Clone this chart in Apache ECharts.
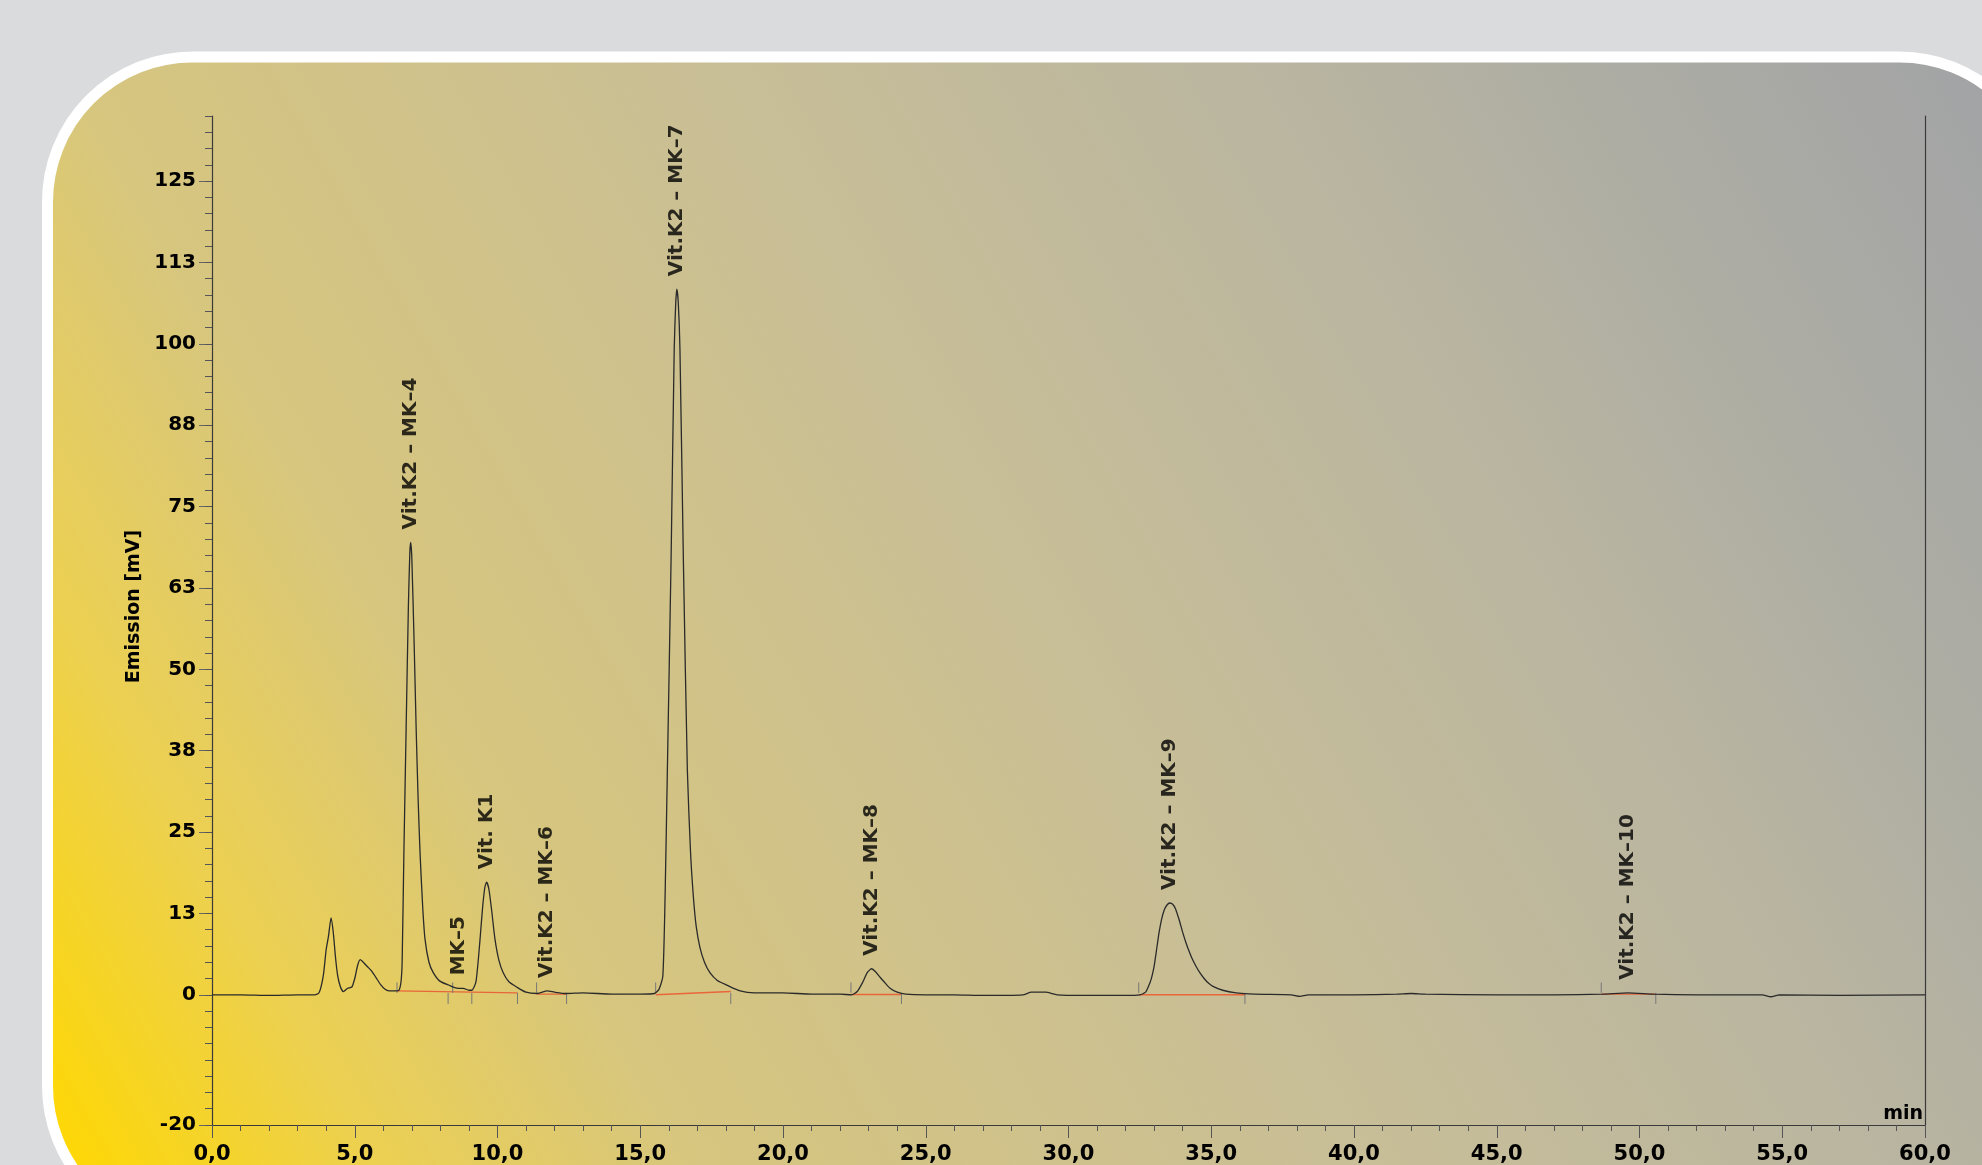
<!DOCTYPE html>
<html>
<head>
<meta charset="utf-8">
<title>Chromatogram Vit. K</title>
<script src="https://cdn.jsdelivr.net/npm/echarts@6/dist/echarts.min.js"></script>
<style>
    html, body { margin: 0; padding: 0; background: #dadbdc; }
    #chart { width: 1982px; height: 1165px; }
</style>
</head>
<body>
<div id="chart"></div>
<script>
// chromatogram trace: [time min, emission mV]
var trace = [
    [0, 0], [1, 0], [2, -0.1], [3, 0], [3.6, 0], [3.75, 0.3], [3.9, 3], [4.0, 7], [4.08, 9],
    [4.17, 11.8], [4.25, 9.5], [4.32, 6], [4.4, 3], [4.5, 1.2], [4.6, 0.5], [4.75, 1.0], [4.9, 1.2],
    [5.0, 2.5], [5.1, 4.5], [5.19, 5.4], [5.3, 5.0], [5.45, 4.3], [5.6, 3.6], [5.75, 2.6], [5.9, 1.6],
    [6.05, 0.9], [6.2, 0.6], [6.45, 0.6], [6.55, 0.7], [6.62, 2], [6.66, 5], [6.72, 21.5], [6.80, 41],
    [6.88, 60], [6.93, 68], [6.96, 69.5], [7.0, 67], [7.08, 54], [7.15, 41], [7.22, 30], [7.29, 21.5],
    [7.38, 13.5], [7.46, 8.6], [7.6, 5], [7.75, 3.4], [7.98, 2.1], [8.34, 1.4], [8.5, 1.1], [8.64, 1.0],
    [8.8, 1.0], [9.0, 0.7], [9.1, 0.7], [9.18, 1.2], [9.25, 2.1], [9.32, 5], [9.39, 8.6], [9.48, 13.5],
    [9.56, 16.6], [9.62, 17.3], [9.7, 16.2], [9.8, 12.8], [9.91, 8.6], [10.05, 5.3], [10.2, 3.4],
    [10.4, 2], [10.67, 1.2], [11, 0.4], [11.4, 0.2], [11.74, 0.6], [12, 0.4], [12.4, 0.2], [13, 0.3],
    [14, 0.1], [15, 0.1], [15.5, 0.2], [15.65, 0.8], [15.79, 2.8], [15.87, 15.1], [15.95, 34.5],
    [16.08, 66.9], [16.19, 99.3], [16.24, 106], [16.28, 108.4], [16.33, 106.5], [16.39, 99.3],
    [16.51, 66.9], [16.65, 34.5], [16.76, 22], [16.86, 15.1], [16.96, 10.5], [17.09, 7.3], [17.25, 5],
    [17.44, 3.4], [17.7, 2.2], [18.03, 1.5], [18.5, 0.6], [19, 0.3], [20, 0.3], [21, 0.1], [22, 0.1],
    [22.4, 0], [22.6, 0.5], [22.8, 2], [22.95, 3.4], [23.1, 4.0], [23.25, 3.5], [23.4, 2.7],
    [23.54, 2.0], [23.75, 1.0], [24.0, 0.4], [24.3, 0.1], [25, 0], [26, 0], [27, -0.1], [28.4, 0],
    [28.7, 0.4], [29.2, 0.4], [29.6, 0], [30.5, -0.1], [32, -0.1], [32.5, 0], [32.7, 0.4], [32.85, 1.8],
    [32.92, 2.8], [33.0, 4.4], [33.08, 6.8], [33.17, 9.5], [33.26, 11.6], [33.35, 13], [33.45, 13.8],
    [33.55, 14.1], [33.65, 13.9], [33.75, 13.2], [33.87, 11.6], [34.0, 9.6], [34.1, 8.2], [34.2, 6.95],
    [34.32, 5.65], [34.47, 4.35], [34.6, 3.4], [34.75, 2.5], [34.9, 1.8], [35.06, 1.3], [35.4, 0.7],
    [35.87, 0.3], [36.5, 0.1], [37.8, 0], [38.1, -0.25], [38.4, 0], [40, 0], [41.5, 0.1], [42, 0.2],
    [42.5, 0.1], [45, 0], [47, 0], [48.7, 0.1], [49.6, 0.3], [50.5, 0.1], [52, 0], [54.3, 0],
    [54.6, -0.3], [54.9, 0], [57, -0.1], [60, 0]
];

// peak names and apex positions
var peakNames = ['Vit.K2 – MK–4', 'MK–5', 'Vit. K1', 'Vit.K2 – MK–6', 'Vit.K2 – MK–7',
    'Vit.K2 – MK–8', 'Vit.K2 – MK–9', 'Vit.K2 – MK–10'];
var peakTimes = [6.96, 8.64, 9.62, 11.74, 16.28, 23.1, 33.55, 49.6];
var peakHeights = [69.5, 1.0, 17.3, 0.6, 108.4, 4.0, 14.1, 0.3];

// integration baselines (orange) and peak start / end markers
var baselineSegs = [
    [6.48, 0.6], [10.7, 0.3], '-', [11.37, 0.1], [12.42, 0.1], '-', [15.54, 0.0], [18.17, 0.5], '-',
    [22.38, 0.05], [24.15, 0.05], '-', [32.46, 0], [36.18, 0], '-', [48.66, 0.1], [50.57, 0.1]
];
var peakStarts = [6.48, 8.43, 11.37, 15.54, 22.38, 32.46, 48.66];
var peakEnds = [8.27, 9.10, 10.70, 12.42, 18.17, 24.15, 36.18, 50.57];

// axis ticks
var xTickLabels = ['0,0', '5,0', '10,0', '15,0', '20,0', '25,0', '30,0', '35,0', '40,0', '45,0', '50,0', '55,0', '60,0'];
var yTickValues = [-20, 0, 12.5, 25, 37.5, 50, 62.5, 75, 87.5, 100, 112.5, 125];
var yTickLabels = ['-20', '0', '13', '25', '38', '50', '63', '75', '88', '100', '113', '125'];

var yMinor = [];
for (var v = -20; v <= 135; v += 2.5) { yMinor.push(v); }

var markerData = [];
peakStarts.forEach(function (t) { markerData.push([t, 0.3], [t, 1.9], '-'); });
peakEnds.forEach(function (t) { markerData.push([t, 0.3], [t, -1.4], '-'); });

var labelData = peakTimes.map(function (t, i) { return { value: [t, peakHeights[i]], name: peakNames[i] }; });

var FONT = 'DejaVu Sans';
var chart = echarts.init(document.getElementById('chart'));

chart.setOption({
    animation: false,
    graphic: [{
        type: 'rect',
        z: -10,
        shape: { x: 47.5, y: 57, width: 1997, height: 1174, r: 145 },
        style: {
            fill: new echarts.graphic.LinearGradient(50, 1165, 1982, 60, [
                { offset: 0, color: '#ffd800' },
                { offset: 0.13, color: '#ecd052' },
                { offset: 0.25, color: '#d7c67e' },
                { offset: 0.51, color: '#c8be97' },
                { offset: 0.72, color: '#b9b5a0' },
                { offset: 0.86, color: '#acaca4' },
                { offset: 1, color: '#a2a3a5' }
            ], true),
            stroke: '#ffffff',
            lineWidth: 11
        }
    }],
    grid: { left: 212, right: 57, top: 116, bottom: 40 },
    xAxis: {
        type: 'value',
        min: 0,
        max: 60,
        interval: 5,
        name: 'min',
        nameLocation: 'end',
        nameGap: -2,
        nameTextStyle: { fontFamily: FONT, fontWeight: 'bold', fontSize: 19, color: '#000', align: 'right', verticalAlign: 'bottom', padding: [0, 0, 1, 0] },
        axisLine: { onZero: false, lineStyle: { color: '#3a3a3a', width: 1.2 } },
        axisTick: { length: 13, lineStyle: { color: '#555' } },
        minorTick: { show: true, splitNumber: 5, length: 6, lineStyle: { color: '#555' } },
        splitLine: { show: false },
        axisLabel: {
            margin: 19,
            fontFamily: FONT, fontWeight: 'bold', fontSize: 21, color: '#000',
            formatter: function (val) { return xTickLabels[Math.round(val / 5)]; }
        }
    },
    yAxis: [{
        type: 'value',
        min: -20,
        max: 135,
        position: 'left',
        name: 'Emission [mV]',
        nameLocation: 'middle',
        nameGap: 63,
        nameTextStyle: { fontFamily: FONT, fontWeight: 'bold', fontSize: 19, color: '#000', padding: [0, 0, 0, 28] },
        axisLine: { show: true, lineStyle: { color: '#3a3a3a', width: 1.2 } },
        axisTick: { show: true, length: 13, customValues: yTickValues, lineStyle: { color: '#666' } },
        splitLine: { show: false },
        axisLabel: {
            margin: 16,
            customValues: yTickValues,
            fontFamily: FONT, fontWeight: 'bold', fontSize: 20, color: '#000',
            formatter: function (val) { return yTickLabels[yTickValues.indexOf(val)]; }
        }
    }, {
        type: 'value',
        min: -20,
        max: 135,
        position: 'left',
        axisLine: { show: false },
        axisTick: { show: true, length: 7, customValues: yMinor, lineStyle: { color: '#555' } },
        axisLabel: { show: false },
        splitLine: { show: false }
    }, {
        type: 'value',
        min: -20,
        max: 135,
        position: 'right',
        axisLine: { show: true, lineStyle: { color: '#3a3a3a', width: 1.2 } },
        axisTick: { show: false },
        axisLabel: { show: false },
        splitLine: { show: false }
    }],
    series: [{
        name: 'baseline',
        type: 'line',
        data: baselineSegs,
        showSymbol: false,
        connectNulls: false,
        lineStyle: { color: '#e8663a', width: 1.4 },
        z: 3
    }, {
        name: 'markers',
        type: 'line',
        data: markerData,
        showSymbol: false,
        connectNulls: false,
        lineStyle: { color: '#777', width: 1 },
        z: 3
    }, {
        name: 'Emission',
        type: 'line',
        data: trace,
        showSymbol: false,
        smooth: 0.2,
        lineStyle: { color: '#2a2a2a', width: 1.3 },
        z: 4
    }, {
        name: 'peaks',
        type: 'scatter',
        data: labelData,
        symbolSize: 0,
        z: 5,
        label: {
            show: true,
            position: 'top',
            distance: 13,
            rotate: 90,
            align: 'left',
            verticalAlign: 'middle',
            formatter: '{b}',
            fontFamily: FONT, fontWeight: 'bold', fontSize: 20, color: '#000'
        }
    }]
});
</script>
</body>
</html>
